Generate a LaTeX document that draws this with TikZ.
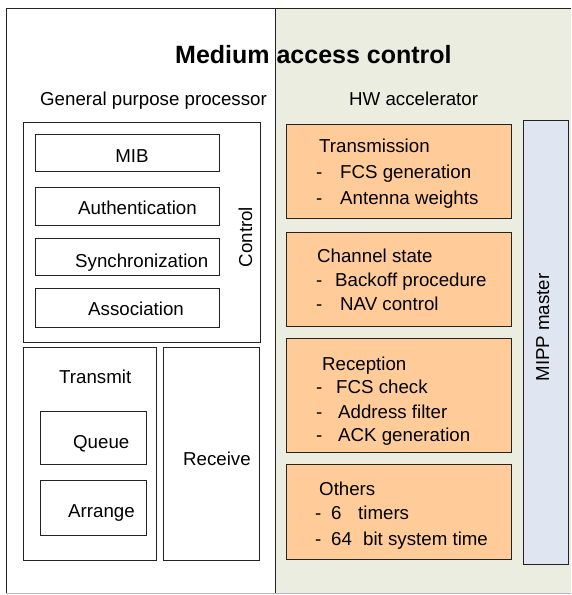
\documentclass[tikz,border=0pt]{standalone}
\usepackage{fontspec}
\setmainfont{Liberation Sans}

\definecolor{accbg}{RGB}{235,237,224}
\definecolor{hwfill}{RGB}{255,204,153}
\definecolor{mippfill}{RGB}{223,230,241}
\definecolor{edge}{RGB}{35,35,35}

\newcommand{\dashline}[2]{\makebox[#1][l]{-}#2}

\begin{document}
\begin{tikzpicture}[x=1pt, y=-1pt,
    every node/.style={font=\fontsize{18.7}{22}\selectfont, inner sep=0pt},
    box/.style={draw=edge, line width=0.9pt, anchor=north west},
    hwbox/.style={box, fill=hwfill},
    lbl/.style={anchor=base west}]
\useasboundingbox (0,0) rectangle (571,595);

% frames
\fill[accbg] (275,8) rectangle (571,594);
\draw[edge, line width=0.9pt] (6,594) -- (6,8) -- (571,8);
\draw[edge, line width=0.9pt] (275,8) -- (275,594);
\draw[gray!55, line width=0.9pt] (6,593.5) -- (571,593.5);

\node[lbl, font=\bfseries\fontsize{25}{28}\selectfont] (title) at (175,63) {Medium access control};
\node[lbl] (gpp) at (40,105) {General purpose processor};
\node[lbl] (hwacc) at (349,105) {HW accelerator};

% general purpose processor
\node[box, minimum width=237, minimum height=220] (ctrl) at (23,122) {};
\node[box, minimum width=184, minimum height=37] (mib) at (35,134) {};
\node[box, minimum width=184, minimum height=38] (auth) at (35,187) {};
\node[box, minimum width=184, minimum height=37] (sync) at (35,238) {};
\node[box, minimum width=184, minimum height=39] (assoc) at (35,288) {};
\node[anchor=base] (mibtxt) at (132,162) {MIB};
\node[lbl] (authtxt) at (78,214) {Authentication};
\node[lbl] (synctxt) at (75,267) {Synchronization};
\node[lbl] (assoctxt) at (88,315) {Association};
\node[anchor=base, rotate=90] (ctrltxt) at (252,237) {Control};

\node[box, minimum width=133, minimum height=213] (tx) at (23,347) {};
\node[box, minimum width=106, minimum height=53] (queue) at (40,411) {};
\node[box, minimum width=106, minimum height=55] (arrange) at (40,480) {};
\node[box, minimum width=96, minimum height=213] (rx) at (163,347) {};
\node[lbl] (txtxt) at (59,383) {Transmit};
\node[lbl] (queuetxt) at (73,448) {Queue};
\node[lbl] (arrangetxt) at (68,517) {Arrange};
\node[lbl] (rxtxt) at (183,465) {Receive};

% hw accelerator
\node[hwbox, minimum width=225, minimum height=94] (trans) at (286,124) {};
\node[hwbox, minimum width=225, minimum height=94] (chan) at (286,232) {};
\node[hwbox, minimum width=225, minimum height=114] (recep) at (286,338) {};
\node[hwbox, minimum width=225, minimum height=95] (others) at (286,464) {};
\node[box, fill=mippfill, minimum width=45, minimum height=444] (mipp) at (523,120) {};

\node[lbl] (transtxt) at (319,152) {Transmission};
\node[lbl] (fcsgen) at (316,178) {\dashline{24pt}{FCS generation}};
\node[lbl] (antenna) at (316,204) {\dashline{24pt}{Antenna weights}};

\node[lbl] (chantxt) at (317,262) {Channel state};
\node[lbl] (backoff) at (316,286) {\dashline{19pt}{Backoff procedure}};
\node[lbl] (nav) at (316,310) {\dashline{24pt}{NAV control}};

\node[lbl] (receptxt) at (322,370) {Reception};
\node[lbl] (fcscheck) at (316,393) {\dashline{20pt}{FCS check}};
\node[lbl] (addr) at (316,418) {\dashline{22pt}{Address filter}};
\node[lbl] (ackgen) at (316,441) {\dashline{22pt}{ACK generation}};

\node[lbl] (otherstxt) at (319,495) {Others};
\node[lbl] (timers) at (315,519) {\dashline{16pt}{\makebox[27pt][l]{6}timers}};
\node[lbl] (systime) at (315,545) {\dashline{16pt}{\makebox[32pt][l]{64}bit system time}};

\node[anchor=base, rotate=90] (mipptxt) at (549,327.5) {MIPP master};
\end{tikzpicture}
\end{document}
